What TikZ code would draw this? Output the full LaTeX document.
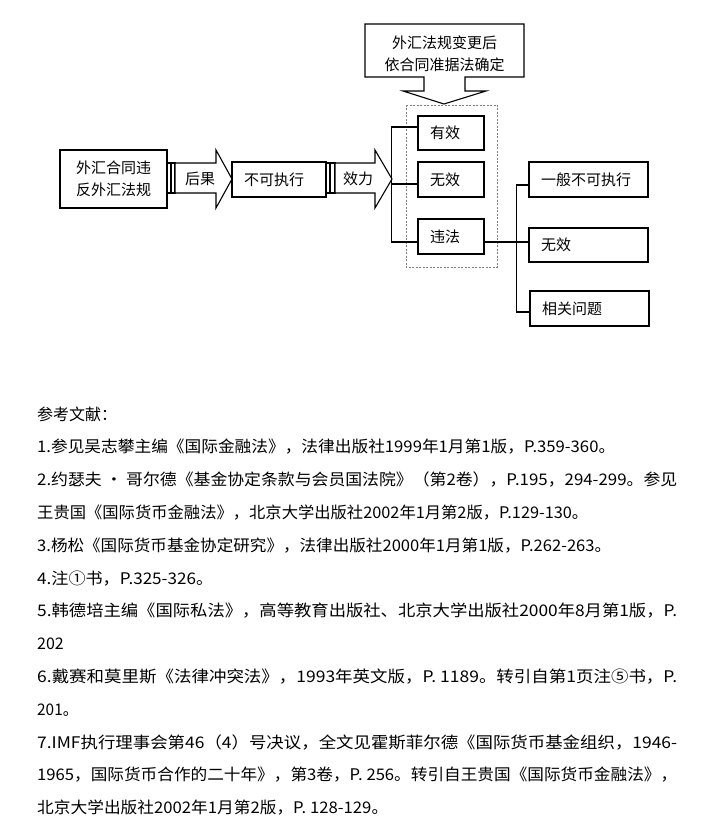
\documentclass[tikz,border=0pt]{standalone}
\usepackage{fontspec}
\usepackage{graphicx}
\newfontfamily\cjk{Noto Sans CJK SC}
\usetikzlibrary{calc}
\newsavebox\refbox
\newcommand\fitline[2]{\sbox\refbox{#2}\pgfmathsetmacro\fitfac{#1/\the\wd\refbox}\scalebox{\fitfac}[1]{\usebox\refbox}}
\begin{document}
\begin{tikzpicture}[x=1pt,y=-1pt,
  dfont/.style={font=\cjk\fontsize{15}{22}\selectfont},
  box/.style={draw, line width=1.1pt, inner ysep=0pt, minimum height=35pt, dfont},
  lbox/.style={box, inner xsep=12pt, text width=#1, align=left},
  conn/.style={line width=1.1pt},
  shp/.style={draw, line width=1.1pt, fill=white, line join=miter},
  reftext/.style={anchor=base west, inner sep=0pt, font=\cjk\fontsize{16}{16}\selectfont}]
\useasboundingbox (0,0) rectangle (715,824);

% source box
\node[box, minimum width=107pt, minimum height=58pt, align=center] (src) at (113.5,179) {外汇合同违\\反外汇法规};

% arrow 1
\draw[shp] (167,163) rectangle (171,193);
\draw[shp] (171,163) rectangle (175,193);
\draw[shp] (175,163) -- (216,163) -- (216,150) -- (232,179) -- (216,208) -- (216,193) -- (175,193) -- cycle;
\node[dfont, inner sep=0pt] (hg) at (200,179) {后果};

% middle box
\node[lbox=70pt, minimum height=35pt] (nx) at (279,179.5) {不可执行};

% arrow 2
\draw[shp] (326,163) rectangle (330,193);
\draw[shp] (330,163) rectangle (335,193);
\draw[shp] (335,163) -- (375,163) -- (375,150) -- (392,179) -- (375,208) -- (375,193) -- (335,193) -- cycle;
\node[dfont, inner sep=0pt] (xl) at (358,179) {效力};

% top callout
\draw[shp] (365,24) -- (524,24) -- (524,77) -- (465,77) -- (465,91) -- (486,91) -- (444,104) -- (403,91) -- (424,91) -- (424,77) -- (365,77) -- cycle;
\node[dfont, align=center, inner sep=0pt] (top) at (444.5,54) {外汇法规变更后\\依合同准据法确定};

% dashed frame
\draw[gray, line width=0.8pt, dash pattern=on 2pt off 1.5pt] (406,105) rectangle (497,267);

% middle column
\node[lbox=42pt, minimum height=34pt] (yx) at (451,133) {有效};
\node[lbox=42pt] (wx) at (451,179.5) {无效};
\node[lbox=42pt] (wf) at (451,236.5) {违法};

% right column
\node[lbox=95pt] (r1) at (588.5,179.5) {一般不可执行};
\node[lbox=95pt, minimum height=34pt] (r2) at (588.5,245) {无效};
\node[lbox=95pt] (r3) at (589.5,308.5) {相关问题};

% connectors left bracket
\draw[conn] ([yshift=6pt]yx.west) -- ++(-26,0) |- ([yshift=-5.5pt]wf.west);
\draw[conn] ([yshift=-4.5pt]wx.west) -- ++(-26,0);
% connectors right
\draw[conn] ([yshift=-5.5pt]wf.east) -- ([yshift=-5.5pt]wf.east -| r2.west);
\draw[conn] ([yshift=-5.5pt]r1.west) -- ++(-12,0) |- ([yshift=-3.5pt]r3.west);

% references
\node[reftext] (ref0) at (37,{420+32.8*0}) {参考文献：};
\node[reftext] (ref1) at (37,{420+32.8*1}) {\fitline{578}{1.参见吴志攀主编《国际金融法》，法律出版社1999年1月第1版，P.359-360。}};
\node[reftext] (ref2) at (37,{420+32.8*2}) {\fitline{640}{2.约瑟夫 · 哥尔德《基金协定条款与会员国法院》（第2卷），P.195，294-299。参见}};
\node[reftext] (ref3) at (37,{420+32.8*3}) {\fitline{551}{王贵国《国际货币金融法》，北京大学出版社2002年1月第2版，P.129-130。}};
\node[reftext] (ref4) at (37,{420+32.8*4}) {\fitline{574}{3.杨松《国际货币基金协定研究》，法律出版社2000年1月第1版，P.262-263。}};
\node[reftext] (ref5) at (37,{420+32.8*5}) {\fitline{176}{4.注①书，P.325-326。}};
\node[reftext] (ref6) at (37,{420+32.8*6}) {\fitline{640}{5.韩德培主编《国际私法》，高等教育出版社、北京大学出版社2000年8月第1版，P.}};
\node[reftext] (ref7) at (37,{420+32.8*7}) {202};
\node[reftext] (ref8) at (37,{420+32.8*8}) {\fitline{640}{6.戴赛和莫里斯《法律冲突法》，1993年英文版，P. 1189。转引自第1页注⑤书，P.}};
\node[reftext] (ref9) at (37,{420+32.8*9}) {\fitline{41}{201。}};
\node[reftext] (ref10) at (37,{420+32.8*10}) {\fitline{640}{7.IMF执行理事会第46（4）号决议，全文见霍斯菲尔德《国际货币基金组织，1946-}};
\node[reftext] (ref11) at (37,{420+32.8*11}) {\fitline{640}{1965，国际货币合作的二十年》，第3卷，P. 256。转引自王贵国《国际货币金融法》，}};
\node[reftext] (ref12) at (37,{420+32.8*12}) {\fitline{351}{北京大学出版社2002年1月第2版，P. 128-129。}};
\end{tikzpicture}
\end{document}
